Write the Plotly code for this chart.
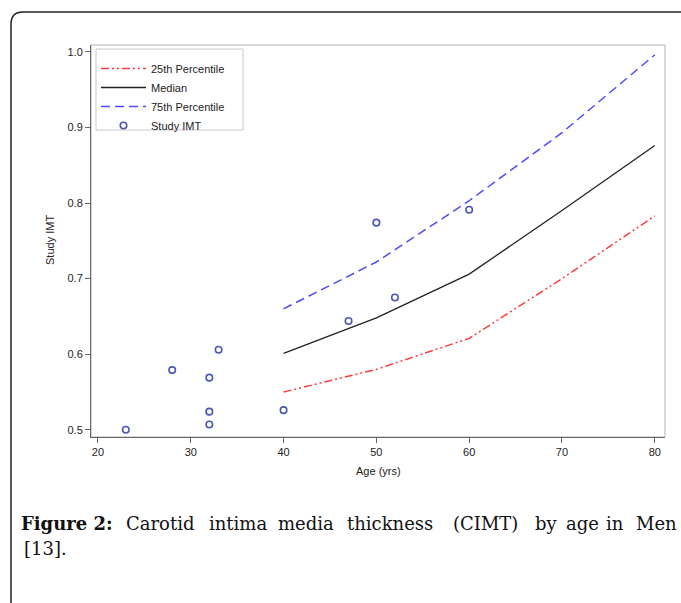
import plotly.graph_objects as go

# ---- data ----
ages_ref = [40, 50, 60, 70, 80]
p25 = [0.550, 0.580, 0.621, 0.700, 0.783]
median = [0.601, 0.648, 0.706, 0.790, 0.876]
p75 = [0.660, 0.722, 0.803, 0.893, 0.996]

study_age = [23, 28, 32, 32, 32, 33, 40, 47, 50, 52, 60]
study_imt = [0.500, 0.579, 0.569, 0.524, 0.507, 0.606, 0.526, 0.644, 0.774, 0.675, 0.791]

x_ticks = [20, 30, 40, 50, 60, 70, 80]
y_ticks = [0.5, 0.6, 0.7, 0.8, 0.9, 1.0]

caption_words = ["<b>Figure 2:</b>", "Carotid", "intima", "media", "thickness",
                 "(CIMT)", "by", "age", "in", "Men"]
caption_line2 = "[13]."

W, H = 681, 603
L, R, T, B = 91, 665, 45, 437  # plot area in pixels


def px(x):
    return (x - L) / (R - L)


def py(y):
    return (B - y) / (B - T)


fig = go.Figure()
fig.add_trace(go.Scatter(x=ages_ref, y=p25, mode="lines", name="25th Percentile",
                         line=dict(color="#ff3b3b", width=1.5, dash="8px,3px,2px,3px,2px,3px")))
fig.add_trace(go.Scatter(x=ages_ref, y=median, mode="lines", name="Median",
                         line=dict(color="#222222", width=1.3)))
fig.add_trace(go.Scatter(x=ages_ref, y=p75, mode="lines", name="75th Percentile",
                         line=dict(color="#4b4bff", width=1.5, dash="9px,5px")))
fig.add_trace(go.Scatter(x=study_age, y=study_imt, mode="markers", name="Study IMT",
                         marker=dict(symbol="circle-open", size=6.5, color="#4a58b5",
                                     line=dict(width=1.6, color="#4a58b5"))))

axis_common = dict(showgrid=False, zeroline=False, showline=True, linecolor="#666666",
                   linewidth=1, ticks="outside", ticklen=5, tickcolor="#666666",
                   tickfont=dict(family="Liberation Sans, Arial", size=11, color="#222222"))

fig.update_layout(
    width=W, height=H,
    margin=dict(l=L, r=W - R, t=T, b=H - B),
    paper_bgcolor="white", plot_bgcolor="white",
    xaxis=dict(range=[19.25, 81.1], tickvals=x_ticks, **axis_common),
    yaxis=dict(range=[0.4905, 1.009], tickvals=y_ticks, tickformat=".1f", **axis_common),
    showlegend=True,
    legend=dict(x=px(96), y=py(54), xanchor="left", yanchor="top",
                bgcolor="rgba(0,0,0,0)", borderwidth=0, tracegroupgap=0, itemwidth=45,
                font=dict(family="Liberation Sans, Arial", size=11, color="#222222")),
    font=dict(family="Liberation Sans, Arial"),
)

# plot frame (top/right) and legend box
fig.add_shape(type="rect", xref="paper", yref="paper", x0=0, x1=1, y0=0, y1=1,
              line=dict(color="#b0b0b0", width=1), layer="below")
fig.add_shape(type="rect", xref="paper", yref="paper", x0=px(96), x1=px(243),
              y0=py(130), y1=py(49), line=dict(color="#c8c8c8", width=1))

# outer rounded border of the figure box
r = 12
path = (f"M {px(11)},{py(700)} L {px(11)},{py(12 + r)} "
        f"Q {px(11)},{py(12)} {px(11 + r)},{py(12)} L {px(760)},{py(12)}")
fig.add_shape(type="path", xref="paper", yref="paper", path=path,
              line=dict(color="#222222", width=1.5))

# axis titles
fig.add_annotation(text="Age (yrs)", xref="paper", yref="paper", x=px(378), y=py(479),
                   showarrow=False, font=dict(size=11, color="#222222"))
fig.add_annotation(text="Study IMT", xref="paper", yref="paper", x=px(42), y=py(240),
                   showarrow=False, textangle=-90, font=dict(size=11, color="#222222"))

# caption (justified line: each word centred at its position)
word_cx = [67, 160, 238, 306, 390, 485, 546, 582, 615, 656]
cap_font = dict(family="DejaVu Serif", size=18, color="#111111")
for wtxt, wx in zip(caption_words, word_cx):
    fig.add_annotation(text=wtxt, xref="paper", yref="paper", x=px(wx), y=py(523),
                       xanchor="center", yanchor="middle", showarrow=False, font=cap_font)
fig.add_annotation(text=caption_line2, xref="paper", yref="paper", x=px(22), y=py(548),
                   xanchor="left", yanchor="middle", showarrow=False, font=cap_font)

fig.write_html("out.html")
